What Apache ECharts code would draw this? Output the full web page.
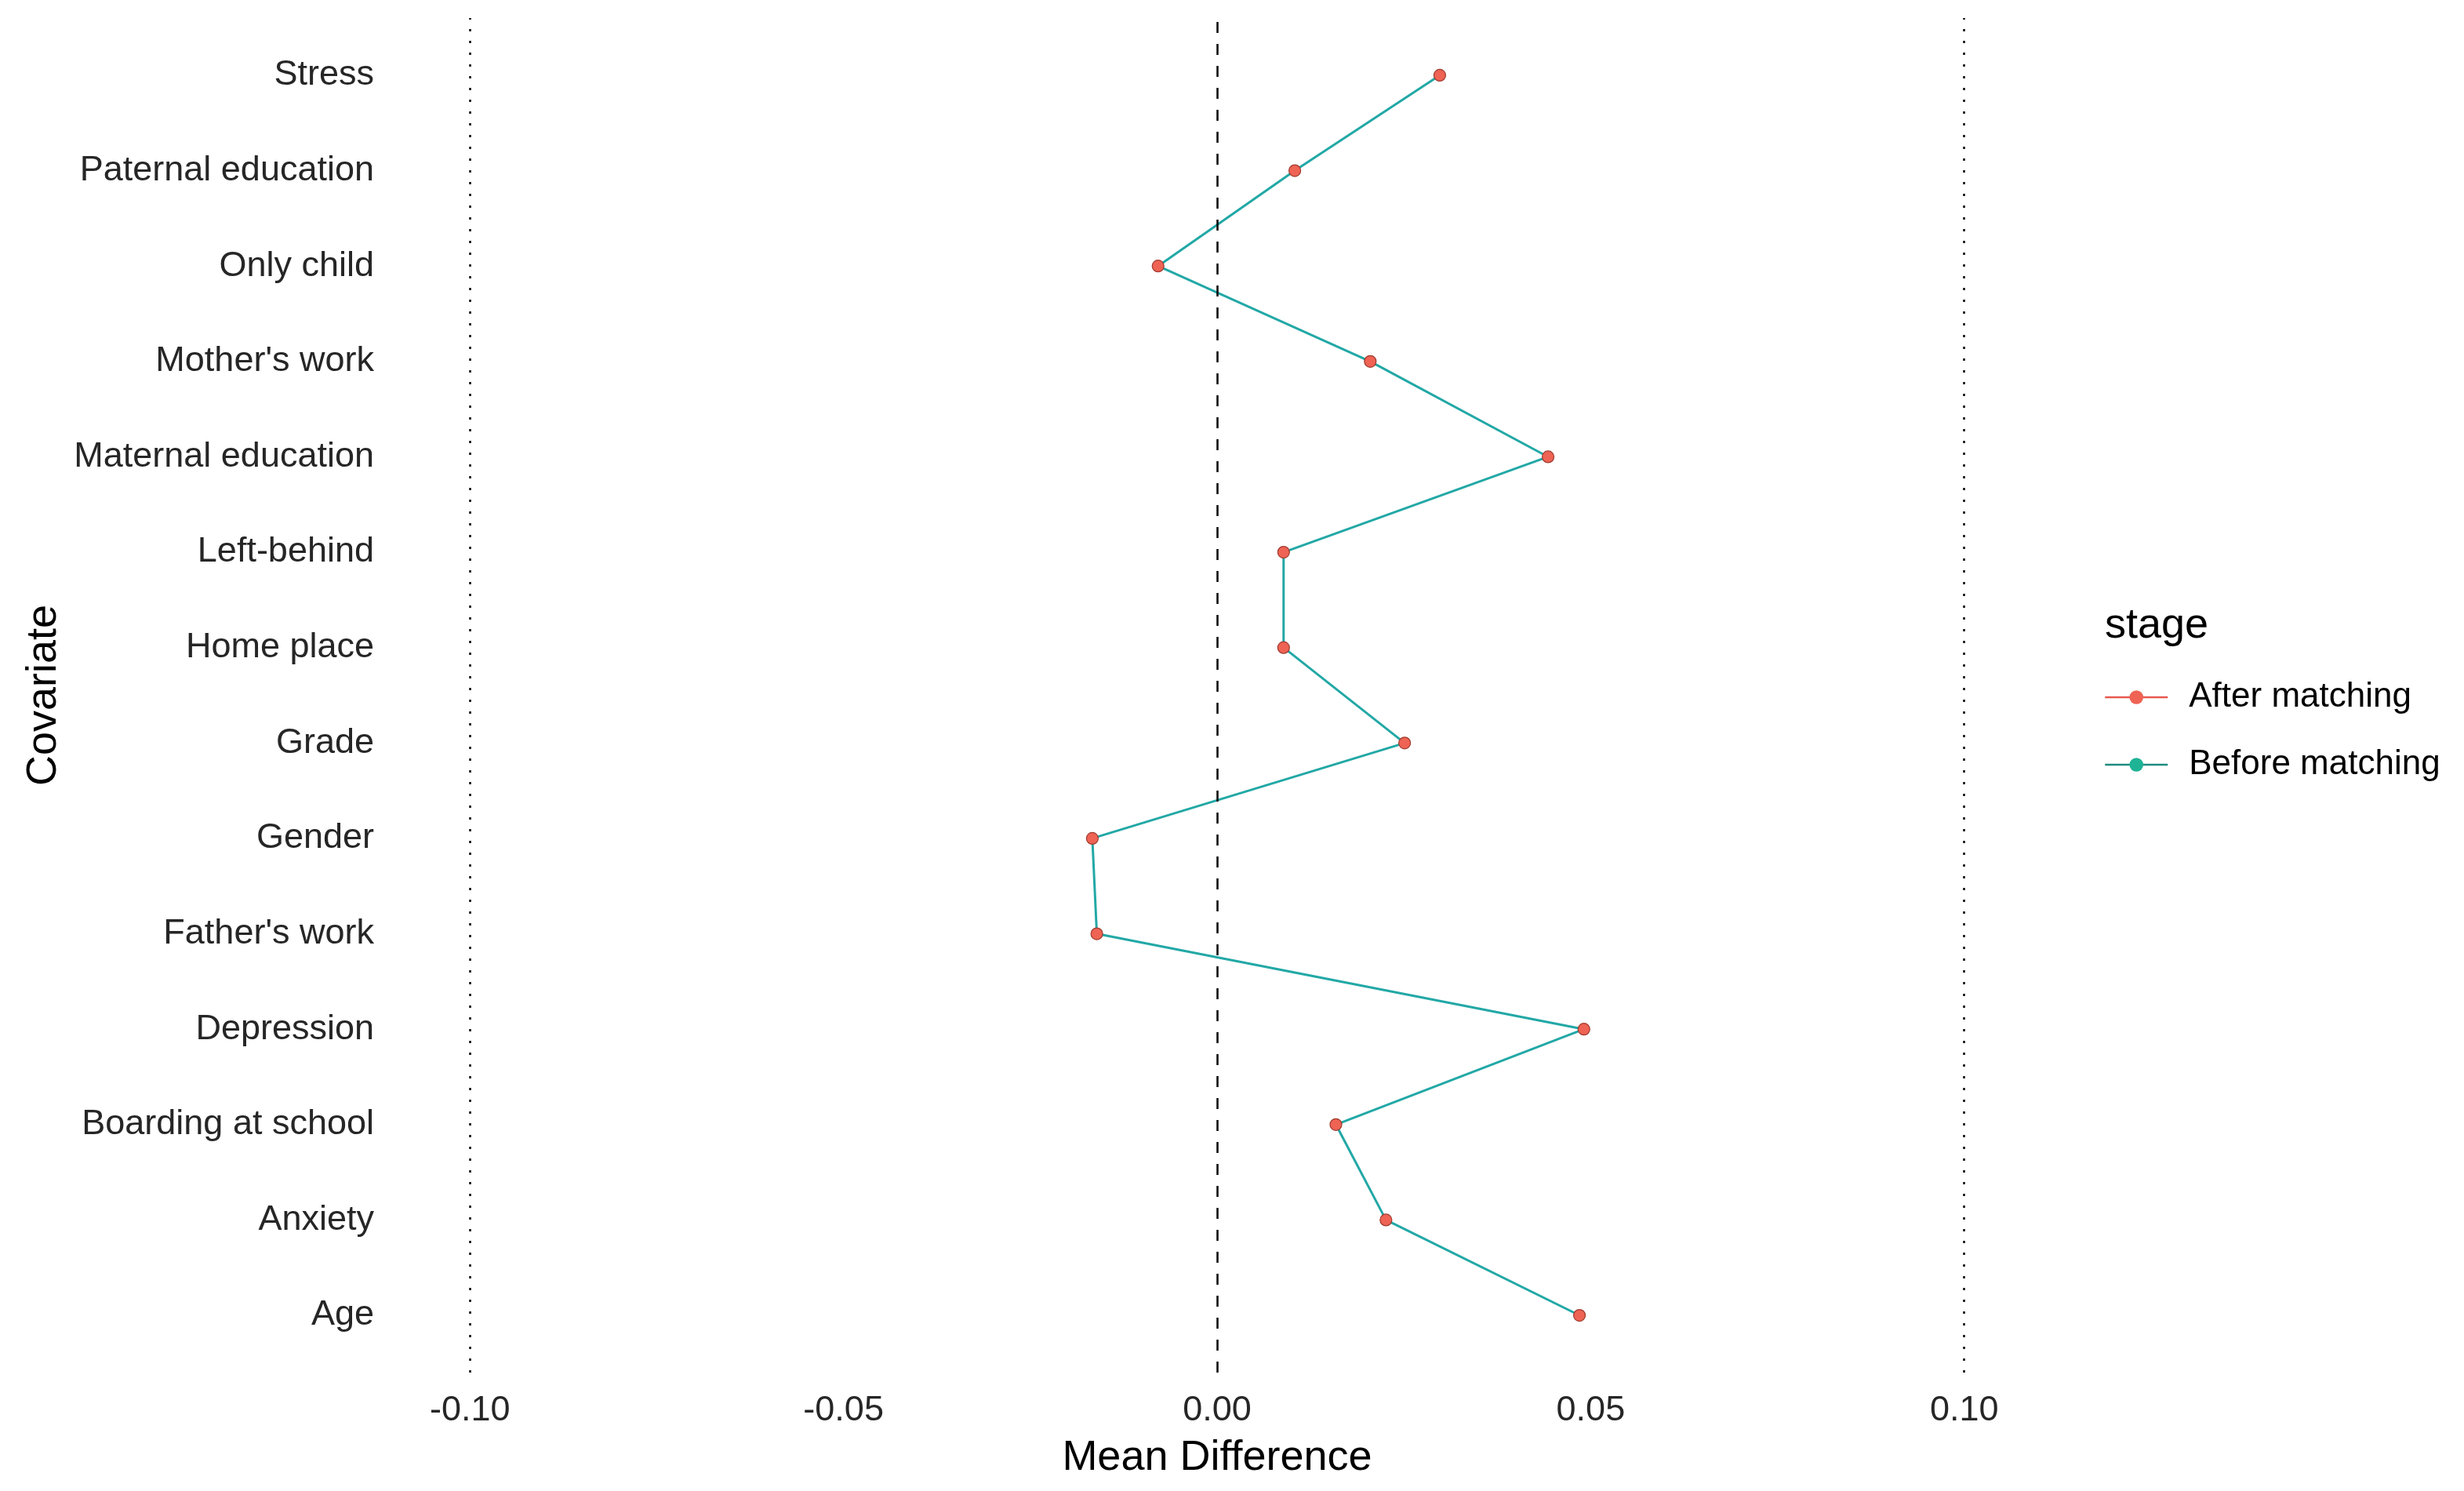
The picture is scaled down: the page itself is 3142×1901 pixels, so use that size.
<!DOCTYPE html>
<html>
<head>
<meta charset="utf-8">
<script src="https://cdn.jsdelivr.net/npm/echarts@6/dist/echarts.min.js"></script>
<style>
  html, body { margin: 0; padding: 0; background: #fff; }
  #chart { width: 3142px; height: 1901px; }
</style>
</head>
<body>
<div id="chart"></div>
<script>
// covariates from bottom (index 0) to top
const covariates = [
  'Age', 'Anxiety', 'Boarding at school', 'Depression', "Father's work",
  'Gender', 'Grade', 'Home place', 'Left-behind', 'Maternal education',
  "Mother's work", 'Only child', 'Paternal education', 'Stress'
]
// mean differences, same order (identical before/after in the picture)
const beforeMatching = [
  0.0485, 0.0226, 0.0159, 0.0491, -0.0161,
  -0.0167, 0.0251, 0.0089, 0.0089, 0.0443,
  0.0205, -0.0079, 0.0104, 0.0298
]
const afterMatching = [
  0.0485, 0.0226, 0.0159, 0.0491, -0.0161,
  -0.0167, 0.0251, 0.0089, 0.0089, 0.0443,
  0.0205, -0.0079, 0.0104, 0.0298
]
const xTicks = [-0.1, -0.05, 0, 0.05, 0.1]
const refLines = [-0.1, 0, 0.1]

const RED = '#E8594F'
const TEAL = '#22A8A6'
const FONT = 'Liberation Sans'

const toPoints = (vals) => vals.map((v, i) => [v, i])

const chart = echarts.init(document.getElementById('chart'))

chart.setOption({
  animation: false,
  backgroundColor: '#fff',
  textStyle: { fontFamily: FONT },
  title: {
    text: 'stage',
    left: 2679,
    top: 766,
    textStyle: { fontFamily: FONT, fontSize: 54, fontWeight: 'normal', color: '#000' }
  },
  legend: {
    orient: 'vertical',
    left: 2678,
    top: 862,
    itemWidth: 80,
    itemHeight: 22,
    itemGap: 42,
    textStyle: { fontFamily: FONT, fontSize: 44, color: '#000', padding: [0, 0, 0, 22] },
    data: [
      { name: 'After matching', lineStyle: { color: RED, width: 2.5, opacity: 1 }, itemStyle: { color: '#EE6354', borderWidth: 0 } },
      { name: 'Before matching', lineStyle: { color: '#1E8C80', width: 2.5, opacity: 1 }, itemStyle: { color: '#1FB396', borderWidth: 0 } }
    ]
  },
  grid: { left: 504, right: 542, top: 23, bottom: 151 },
  xAxis: {
    type: 'value',
    min: -0.11,
    max: 0.11,
    interval: 0.01,
    name: 'Mean Difference',
    nameLocation: 'middle',
    nameGap: 82,
    nameTextStyle: { fontFamily: FONT, fontSize: 54, color: '#000' },
    axisLine: { show: false },
    axisTick: { show: false },
    splitLine: { show: false },
    axisLabel: {
      margin: 26,
      fontFamily: FONT,
      fontSize: 45,
      color: '#262626',
      formatter: (v) => {
        const hit = xTicks.find((t) => Math.abs(t - v) < 1e-6)
        return hit === undefined ? '' : hit.toFixed(2)
      }
    }
  },
  yAxis: {
    type: 'value',
    min: -0.6,
    max: 13.6,
    interval: 0.2,
    name: 'Covariate',
    nameLocation: 'middle',
    nameGap: 420,
    nameRotate: 90,
    nameTextStyle: { fontFamily: FONT, fontSize: 54, color: '#000' },
    axisLine: { show: false },
    axisTick: { show: false },
    splitLine: { show: false },
    axisLabel: {
      margin: 27,
      fontFamily: FONT,
      fontSize: 45,
      color: '#262626',
      padding: [6, 0, 0, 0],
      formatter: (v) => {
        const r = Math.round(v)
        return Math.abs(v - r) < 1e-6 && covariates[r] !== undefined ? covariates[r] : ''
      }
    }
  },
  series: [
    {
      name: 'Before matching',
      type: 'line',
      z: 2,
      data: toPoints(beforeMatching),
      symbol: 'circle',
      symbolSize: 13,
      itemStyle: { color: TEAL },
      lineStyle: { color: TEAL, width: 3 },
      markLine: {
        silent: true,
        symbol: 'none',
        label: { show: false },
        data: refLines.map((x) => ({
          xAxis: x,
          lineStyle: { color: '#000', width: 2.5, type: x === 0 ? [14, 14] : [3, 12] }
        }))
      }
    },
    {
      name: 'After matching',
      type: 'line',
      z: 3,
      data: toPoints(afterMatching),
      symbol: 'circle',
      symbolSize: 15,
      itemStyle: { color: '#EE6354', borderColor: '#9E3A2E', borderWidth: 1.2 },
      lineStyle: { color: RED, width: 3, opacity: 0 }
    }
  ]
})
</script>
</body>
</html>
